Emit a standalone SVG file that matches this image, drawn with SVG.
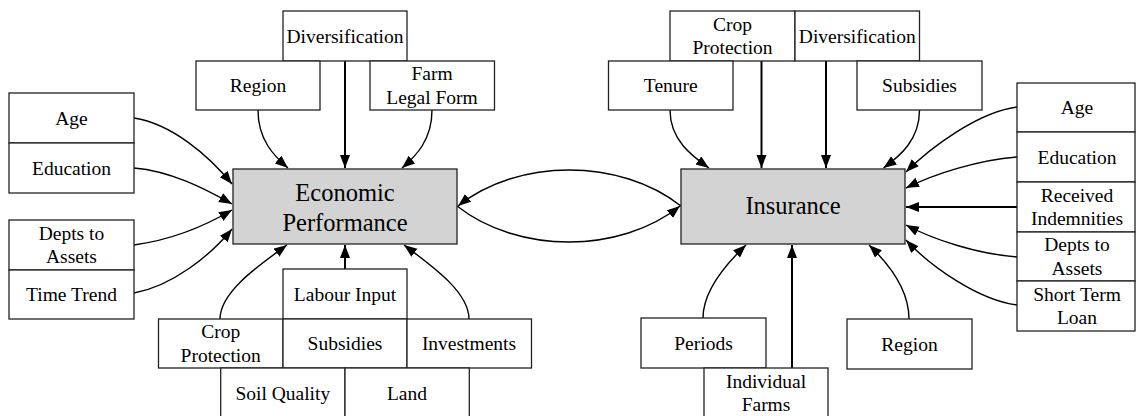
<svg xmlns="http://www.w3.org/2000/svg" width="1136" height="416" viewBox="0 0 1136 416">
<style>
.box{fill:#fff;stroke:#222;stroke-width:1.3}
.main{fill:#d3d3d3;stroke:#222;stroke-width:1.3}
text{font-family:"Liberation Serif","Tinos","Times New Roman","DejaVu Serif",serif;font-size:19.5px;fill:#000;text-anchor:middle}
.big{font-size:24.5px}
.c{fill:none;stroke:#000;stroke-width:1.4}
.s{fill:none;stroke:#000;stroke-width:2}
</style>
<defs>
<marker id="ah" markerUnits="userSpaceOnUse" markerWidth="14" markerHeight="11" refX="13" refY="5" orient="auto">
<path d="M0,0 L13,5 L0,10 z" fill="#000"/>
</marker>
</defs>
<rect width="1136" height="416" fill="#fff"/>
<g id="connectors">
<path class="c" d="M258,110 C258,140 274,156 288,168" marker-end="url(#ah)"/>
<path class="s" d="M345,61 L345,168" marker-end="url(#ah)"/>
<path class="c" d="M432,110 C432,140 416,156 402,168" marker-end="url(#ah)"/>
<path class="c" d="M134,118 C172,124 208,155 232,184" marker-end="url(#ah)"/>
<path class="c" d="M134,168 C170,171 204,188 232,204" marker-end="url(#ah)"/>
<path class="c" d="M134,245 C170,240 205,226 232,210" marker-end="url(#ah)"/>
<path class="c" d="M134,293 C172,286 210,256 232,229" marker-end="url(#ah)"/>
<path class="c" d="M220,319 C220,292 258,266 287,245" marker-end="url(#ah)"/>
<path class="s" d="M345,269 L345,245" marker-end="url(#ah)"/>
<path class="c" d="M469,319 C469,292 432,266 404,245" marker-end="url(#ah)"/>
<path class="c" d="M681,206 C620,158 518,158 458,206" marker-end="url(#ah)"/>
<path class="c" d="M457,206 C518,254 620,254 680,206" marker-end="url(#ah)"/>
<path class="c" d="M670,110 C670,140 692,156 709,168" marker-end="url(#ah)"/>
<path class="s" d="M761.5,61 L761.5,168" marker-end="url(#ah)"/>
<path class="s" d="M826,61 L826,168" marker-end="url(#ah)"/>
<path class="c" d="M919.5,110 C919.5,140 900,156 883.5,168" marker-end="url(#ah)"/>
<path class="c" d="M1017,107 C978,112 930,148 906,172" marker-end="url(#ah)"/>
<path class="c" d="M1017,157 C978,160 934,174 906,188" marker-end="url(#ah)"/>
<path class="s" d="M1017,207 L906,207" marker-end="url(#ah)"/>
<path class="c" d="M1017,257 C978,254 934,240 906,225" marker-end="url(#ah)"/>
<path class="c" d="M1017,305 C978,300 930,266 906,240" marker-end="url(#ah)"/>
<path class="c" d="M703,318 C703,290 726,264 746,245" marker-end="url(#ah)"/>
<path class="s" d="M792,368 L792,245" marker-end="url(#ah)"/>
<path class="c" d="M909,319 C909,290 889,264 869,245" marker-end="url(#ah)"/>
</g>
<g id="n-div-l"><rect class="box" x="283" y="11" width="124" height="50"/><text x="345" y="42.5">Diversification</text></g>
<g id="n-region-l"><rect class="box" x="196" y="61" width="124" height="49"/><text x="258" y="92">Region</text></g>
<g id="n-farm-l"><rect class="box" x="370" y="61" width="124.5" height="49"/><text x="432" y="80.3">Farm</text><text x="432" y="103.8">Legal Form</text></g>
<g id="n-age-l"><rect class="box" x="9" y="93" width="125" height="50"/><text x="71.5" y="124.5">Age</text></g>
<g id="n-edu-l"><rect class="box" x="9" y="143" width="125" height="50"/><text x="71.5" y="174.5">Education</text></g>
<g id="n-depts-l"><rect class="box" x="9" y="220" width="125" height="50"/><text x="71.5" y="239.8">Depts to</text><text x="71.5" y="263.3">Assets</text></g>
<g id="n-time-l"><rect class="box" x="9" y="270" width="125" height="49"/><text x="71.5" y="301">Time Trend</text></g>
<g id="n-ep"><rect class="main" x="233" y="169" width="224" height="75"/><text class="big" x="345" y="200.5">Economic</text><text class="big" x="345" y="230.5">Performance</text></g>
<g id="n-labour"><rect class="box" x="283" y="269" width="124" height="50"/><text x="345" y="300.5">Labour Input</text></g>
<g id="n-crop-l"><rect class="box" x="158.5" y="319" width="124.5" height="49"/><text x="220.7" y="338.3">Crop</text><text x="220.7" y="361.8">Protection</text></g>
<g id="n-subs-l"><rect class="box" x="283" y="319" width="124" height="49"/><text x="345" y="350">Subsidies</text></g>
<g id="n-invest"><rect class="box" x="407" y="319" width="124.5" height="49"/><text x="469" y="350">Investments</text></g>
<g id="n-soil"><rect class="box" x="220.7" y="368" width="124.3" height="50"/><text x="282.8" y="400">Soil Quality</text></g>
<g id="n-land"><rect class="box" x="345" y="368" width="124.3" height="50"/><text x="407" y="400">Land</text></g>
<g id="n-crop-r"><rect class="box" x="670" y="11" width="125" height="50"/><text x="732.5" y="30.8">Crop</text><text x="732.5" y="54.3">Protection</text></g>
<g id="n-div-r"><rect class="box" x="795" y="11" width="124.5" height="50"/><text x="857.3" y="42.5">Diversification</text></g>
<g id="n-tenure"><rect class="box" x="608.5" y="61" width="124.5" height="49"/><text x="670.8" y="92">Tenure</text></g>
<g id="n-subs-r"><rect class="box" x="857" y="61" width="125" height="49"/><text x="919.5" y="92">Subsidies</text></g>
<g id="n-ins"><rect class="main" x="681" y="169" width="224" height="75"/><text class="big" x="793" y="214">Insurance</text></g>
<g id="n-age-r"><rect class="box" x="1017" y="83" width="118" height="49"/><text x="1077" y="114">Age</text></g>
<g id="n-edu-r"><rect class="box" x="1017" y="132" width="118" height="50"/><text x="1077" y="163.5">Education</text></g>
<g id="n-recv"><rect class="box" x="1017" y="182" width="118" height="50"/><text x="1077" y="201.8">Received</text><text x="1077" y="225.3">Indemnities</text></g>
<g id="n-depts-r"><rect class="box" x="1017" y="232" width="118" height="49"/><text x="1077" y="251.3">Depts to</text><text x="1077" y="274.8">Assets</text></g>
<g id="n-short"><rect class="box" x="1017" y="281" width="118" height="50"/><text x="1077" y="300.8">Short Term</text><text x="1077" y="324.3">Loan</text></g>
<g id="n-periods"><rect class="box" x="641" y="318" width="125" height="50"/><text x="703.5" y="349.5">Periods</text></g>
<g id="n-indiv"><rect class="box" x="704" y="368" width="124" height="50"/><text x="766" y="387.8">Individual</text><text x="766" y="411.3">Farms</text></g>
<g id="n-region-r"><rect class="box" x="847" y="319" width="125" height="50"/><text x="909.5" y="350.5">Region</text></g>
</svg>
